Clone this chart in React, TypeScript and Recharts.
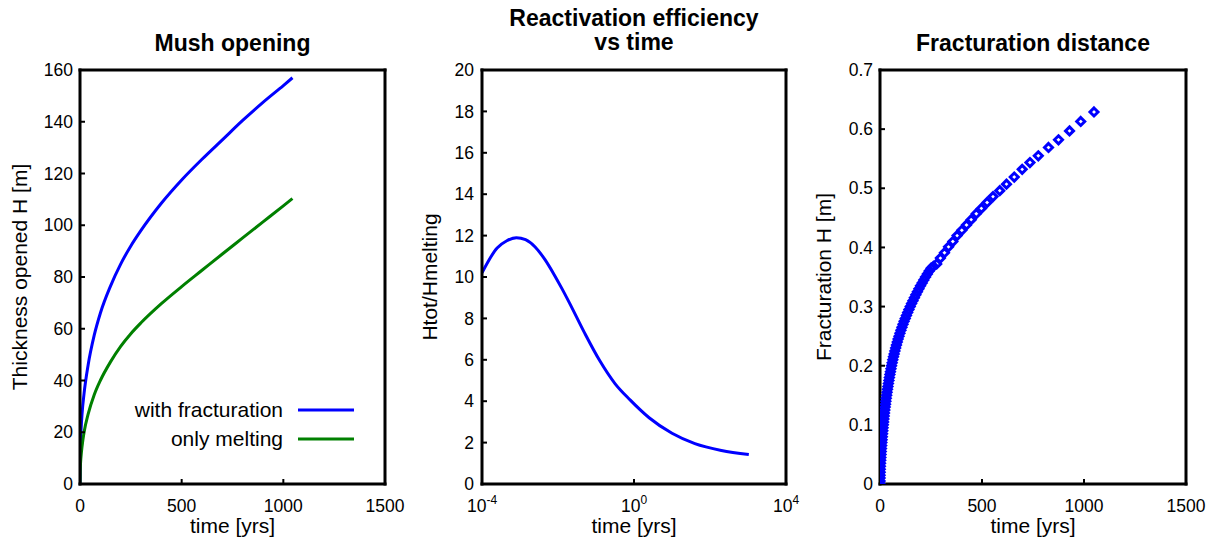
import { LineChart, Line, ScatterChart, Scatter, XAxis, YAxis, Legend } from 'recharts'

const FONT = '"Liberation Sans", Arial, Helvetica, sans-serif'
const BLUE = '#0000ff'
const GREEN = '#008000'

// --- Mush opening ---
const mushTime = [0, 1, 3, 6, 10, 20, 40, 70, 100, 150, 200, 250, 300, 400, 500, 600, 700, 800, 900, 1000, 1045]
const mushWithFrac = [0, 9, 16, 22, 27, 35, 46, 57.5, 66, 76.5, 85, 92, 98, 108.5, 117.5, 125.5, 133, 140.5, 147.5, 154, 157]
const mushMelting = [0, 5, 8.5, 11.5, 14.5, 20, 27, 34.5, 40, 47.2, 53.2, 58.1, 62.3, 69.7, 76.3, 82.6, 88.9, 95.1, 101.3, 107.5, 110.3]
const mushXTicks = [0, 500, 1000, 1500]
const mushYTicks = [0, 20, 40, 60, 80, 100, 120, 140, 160]

// --- Reactivation efficiency vs time (log time axis) ---
const reactTime = [0.0001, 0.00025, 0.00045, 0.0008, 0.0014, 0.0025, 0.0045, 0.008, 0.0126, 0.02, 0.05, 0.126, 0.316, 0.8, 2.5, 10, 40, 200, 1050]
const reactRatio = [10.2, 11.4, 11.75, 11.9, 11.8, 11.45, 10.85, 10.1, 9.45, 8.75, 7.3, 5.95, 4.85, 4.05, 3.2, 2.45, 1.95, 1.62, 1.42]
const reactXTicks = [0.0001, 1, 10000]
const reactYTicks = [0, 2, 4, 6, 8, 10, 12, 14, 16, 18, 20]

// --- Fracturation distance ---
const fracTime = [
  0, 0.05, 0.2, 0.4, 0.8, 1.2, 1.8, 2.5, 3.3, 4.1,
  5, 6, 7, 8, 9, 10.2, 11.3, 12.5, 13.7, 14.9,
  16.2, 17.5, 19, 20.5, 22, 23.6, 25.3, 27, 28.8, 30.7,
  32.6, 34.6, 36.7, 38.9, 41.2, 43.6, 46, 48.5, 51.1, 53.8,
  56.6, 59.6, 62.7, 66, 69.4, 73, 76.7, 80.6, 84.6, 88.8,
  93.2, 97.8, 102.6, 107.6, 112.8, 118.2, 123.8, 129.6, 135.6, 141.8,
  148.2, 154.8, 161.6, 168.6, 175.8, 183.2, 190.8, 198.6, 206.6, 214.8,
  223.2, 232, 241, 250.5,
  262, 278, 296, 316, 336, 357, 378, 401, 424, 447, 472, 497, 525,
  554, 587, 620, 658, 697, 735, 776, 826, 875, 929, 984, 1049,
]
const fracH = [
  0, 0.005, 0.01, 0.015, 0.02, 0.025, 0.03, 0.035, 0.04, 0.045,
  0.05, 0.055, 0.06, 0.065, 0.07, 0.075, 0.08, 0.085, 0.09, 0.095,
  0.1, 0.105, 0.11, 0.115, 0.12, 0.125, 0.13, 0.135, 0.14, 0.145,
  0.15, 0.155, 0.16, 0.165, 0.17, 0.175, 0.18, 0.185, 0.19, 0.195,
  0.2, 0.205, 0.21, 0.215, 0.22, 0.225, 0.23, 0.235, 0.24, 0.245,
  0.25, 0.255, 0.26, 0.265, 0.27, 0.275, 0.28, 0.285, 0.29, 0.295,
  0.3, 0.305, 0.31, 0.315, 0.32, 0.325, 0.33, 0.335, 0.34, 0.345,
  0.35, 0.355, 0.36, 0.365,
  0.368, 0.372, 0.382, 0.391, 0.401, 0.41, 0.42, 0.429, 0.438, 0.447, 0.457, 0.466, 0.476,
  0.486, 0.496, 0.507, 0.519, 0.532, 0.5435, 0.555, 0.569, 0.582, 0.597, 0.613, 0.629,
]
const fracXTicks = [0, 500, 1000, 1500]
const fracYTicks = [0, 0.1, 0.2, 0.3, 0.4, 0.5, 0.6, 0.7]

const mushSeries = [
  { key: 'withFrac', name: 'with fracturation', color: BLUE },
  { key: 'melting', name: 'only melting', color: GREEN },
]

const mushData = mushTime.map((t, i) => ({ t, withFrac: mushWithFrac[i], melting: mushMelting[i] }))
const reactData = reactTime.map((t, i) => ({ t, ratio: reactRatio[i] }))
const fracData = fracTime.map((t, i) => ({ t, h: fracH[i] }))

const axisLine = { stroke: '#000', strokeWidth: 3, strokeLinecap: 'square' as const }
const tickLine = { stroke: '#000', strokeWidth: 2 }
const tickFont = { fill: '#000', fontSize: 17.5, fontFamily: FONT }

// shared frame props: thick box, ticks pointing inwards
const frame = { axisLine, tickLine, tickSize: -5, interval: 0 as const, allowDataOverflow: true }

function LogTick({ x, y, payload }: any) {
  const exp = Math.round(Math.log10(payload.value))
  return (
    <text x={x} y={y} textAnchor="middle" fill="#000" fontSize={17.5} fontFamily={FONT}>
      <tspan dy="0.71em">10</tspan>
      <tspan dy={-8} fontSize={12}>{exp}</tspan>
    </text>
  )
}

function MushLegend({ payload }: any) {
  const items = mushSeries.map((s) => (payload || []).find((p: any) => p.value === s.name) || { value: s.name, color: s.color })
  return (
    <div style={{ fontFamily: FONT, fontSize: 21, color: '#000' }}>
      {items.map((p: any) => (
        <div key={p.value} style={{ display: 'flex', alignItems: 'center', justifyContent: 'flex-end', height: 29 }}>
          <span style={{ whiteSpace: 'nowrap' }}>{p.value}</span>
          <svg width={77} height={10}>
            <line x1={15} x2={71} y1={5} y2={5} stroke={p.color} strokeWidth={3} />
          </svg>
        </div>
      ))}
    </div>
  )
}

function Diamond({ cx, cy }: any) {
  const r = 4
  return (
    <polygon
      points={`${cx},${cy - r} ${cx + r},${cy} ${cx},${cy + r} ${cx - r},${cy}`}
      fill="none"
      stroke={BLUE}
      strokeWidth={3}
    />
  )
}

export default function App() {
  return (
    <div style={{ position: 'absolute', left: 0, top: 0, width: 1213, height: 543, background: '#fff' }}>
      <div style={{ position: 'absolute', left: 0, top: 0 }}>
        <LineChart width={420} height={543} data={mushData} margin={{ top: 69, right: 34, bottom: 29, left: 0 }}>
          <XAxis dataKey="t" type="number" domain={[0, 1500]} ticks={mushXTicks} height={30}
            tickMargin={21} tick={tickFont} {...frame} />
          <XAxis xAxisId="top" orientation="top" dataKey="t" type="number" domain={[0, 1500]} ticks={mushXTicks}
            height={1} tick={false} {...frame} />
          <YAxis type="number" domain={[0, 160]} ticks={mushYTicks} width={80}
            tickMargin={12} tick={tickFont} {...frame} />
          <YAxis yAxisId="right" orientation="right" type="number" domain={[0, 160]} ticks={mushYTicks}
            width={1} tick={false} {...frame} />
          {mushSeries.map((s) => (
            <Line key={s.key} dataKey={s.key} name={s.name} type="monotone" stroke={s.color} strokeWidth={3}
              dot={false} activeDot={false} isAnimationActive={false} />
          ))}
          <Legend layout="vertical" align="center" verticalAlign="middle" content={<MushLegend />}
            wrapperStyle={{ left: 120, top: 395.5, width: 240, height: 58 }} />
        </LineChart>
      </div>

      <div style={{ position: 'absolute', left: 400, top: 0 }}>
        <LineChart width={420} height={543} data={reactData} margin={{ top: 69, right: 33, bottom: 29, left: 0 }}>
          <XAxis dataKey="t" type="number" scale="log" domain={[0.0001, 10000]} ticks={reactXTicks} height={30}
            tickMargin={21} tick={<LogTick />} {...frame} />
          <XAxis xAxisId="top" orientation="top" dataKey="t" type="number" scale="log" domain={[0.0001, 10000]}
            ticks={reactXTicks} height={1} tick={false} {...frame} />
          <YAxis type="number" domain={[0, 20]} ticks={reactYTicks} width={82}
            tickMargin={13} tick={tickFont} {...frame} />
          <YAxis yAxisId="right" orientation="right" type="number" domain={[0, 20]} ticks={reactYTicks}
            width={1} tick={false} {...frame} />
          <Line dataKey="ratio" type="monotone" stroke={BLUE} strokeWidth={3} dot={false} activeDot={false}
            isAnimationActive={false} />
        </LineChart>
      </div>

      <div style={{ position: 'absolute', left: 800, top: 0 }}>
        <ScatterChart width={413} height={543} margin={{ top: 69, right: 26, bottom: 29, left: 0 }}>
          <XAxis dataKey="t" type="number" domain={[0, 1500]} ticks={fracXTicks} height={30}
            tickMargin={21} tick={tickFont} {...frame} />
          <XAxis xAxisId="top" orientation="top" dataKey="t" type="number" domain={[0, 1500]} ticks={fracXTicks}
            height={1} tick={false} {...frame} />
          <YAxis dataKey="h" type="number" domain={[0, 0.7]} ticks={fracYTicks} width={80}
            tickMargin={12} tick={tickFont} {...frame} />
          <YAxis yAxisId="right" orientation="right" dataKey="h" type="number" domain={[0, 0.7]} ticks={fracYTicks}
            width={1} tick={false} {...frame} />
          <Scatter data={fracData} shape={<Diamond />} isAnimationActive={false} />
        </ScatterChart>
      </div>

      <svg width={1213} height={543} style={{ position: 'absolute', left: 0, top: 0, pointerEvents: 'none' }}
        fontFamily={FONT} fill="#000">
        <text x={232.5} y={51} textAnchor="middle" fontSize={23} fontWeight="bold">Mush opening</text>
        <text x={634} y={26} textAnchor="middle" fontSize={23} fontWeight="bold">Reactivation efficiency</text>
        <text x={634} y={50} textAnchor="middle" fontSize={23} fontWeight="bold">vs time</text>
        <text x={1033} y={51} textAnchor="middle" fontSize={23} fontWeight="bold">Fracturation distance</text>

        <text x={232.5} y={533} textAnchor="middle" fontSize={21}>time [yrs]</text>
        <text x={634} y={533} textAnchor="middle" fontSize={21}>time [yrs]</text>
        <text x={1033} y={533} textAnchor="middle" fontSize={21}>time [yrs]</text>

        <text x={27} y={277} textAnchor="middle" fontSize={21} transform="rotate(-90 27 277)">Thickness opened H [m]</text>
        <text x={437} y={277} textAnchor="middle" fontSize={21} transform="rotate(-90 437 277)">Htot/Hmelting</text>
        <text x={831} y={277} textAnchor="middle" fontSize={21} transform="rotate(-90 831 277)">Fracturation H [m]</text>
      </svg>
    </div>
  )
}
